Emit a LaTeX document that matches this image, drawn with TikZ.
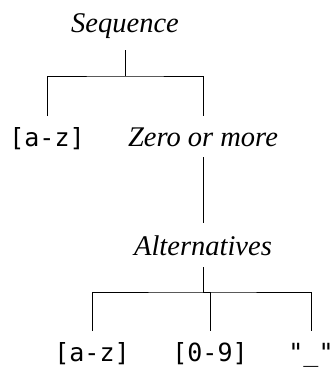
\documentclass[tikz,border=0pt]{standalone}
\usepackage{fontspec}
\usepackage{tikz}
\newfontfamily\codefont{DejaVu Sans Mono}
% serif italic for the rule names
\newfontfamily\rulefont{Liberation Serif}

\begin{document}
\begin{tikzpicture}[x=1pt,y=-1pt,line width=1pt,
 rule/.style={font=\fontsize{28.5}{32}\rulefont\itshape,anchor=base,inner sep=0pt},
 lit/.style={font=\fontsize{25}{30}\codefont,anchor=base,inner sep=0pt}]
\useasboundingbox (0,0) rectangle (335,367);
% top level
\node[rule] (seq) at (125,32) {Sequence};
\node[lit] (az1) at (47,146) {[a-z]};
\node[rule] (zom) at (203,146) {Zero or more};
\node[rule] (alt) at (203,255) {Alternatives};
% alternatives
\node[lit] (az2) at (92,361) {[a-z]};
\node[lit] (d09) at (210,361) {[0-9]};
\node[lit] (us) at (311,361) {"\_"};
\coordinate (j1) at (125,76);
\coordinate (j2) at (203,292);
\draw ([yshift=-18pt]seq.base) -- (j1);
\draw ([yshift=30pt]az1.base) |- (j1) -| ([yshift=30pt]zom.base);
\draw ([yshift=-11pt]zom.base) -- ([yshift=32pt]alt.base);
\draw ([yshift=-12pt]alt.base) -- (j2);
\draw ([yshift=30pt]az2.base) |- (j2) -| ([yshift=30pt]us.base);
\draw (j2) -| ([yshift=30pt]d09.base);
\end{tikzpicture}
\end{document}
